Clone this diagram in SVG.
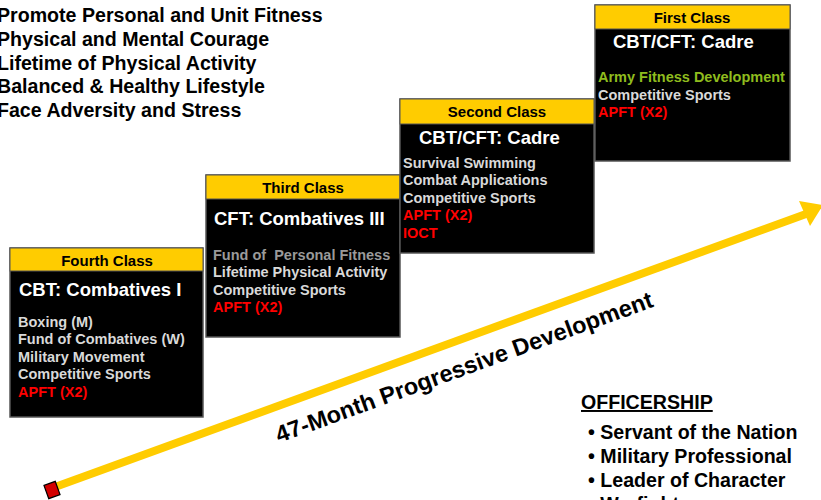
<svg xmlns="http://www.w3.org/2000/svg" width="821" height="500" viewBox="0 0 821 500">
<style>
text{font-family:"Liberation Sans",Arial,sans-serif;font-weight:bold}
.body{fill:#000;stroke:#555;stroke-width:1.5}
.hdr{fill:#ffcc00;stroke:#555;stroke-width:1}
.hl{font-size:15px;fill:#000;text-anchor:middle}
.ttl{font-size:18.5px;fill:#fff}
.it{font-size:14.5px;fill:#d9d9d9}
.red{fill:#ff0000}
.grn{fill:#8fbc1e}
.gry{fill:#9a9a9a}
.big{font-size:19.6px;fill:#000}
</style>
<rect width="821" height="500" fill="#fff"/>
<g id="goals">
<text class="big" x="-3" y="22">Promote Personal and Unit Fitness</text>
<text class="big" x="-3" y="46">Physical and Mental Courage</text>
<text class="big" x="-3" y="70">Lifetime of Physical Activity</text>
<text class="big" x="-3" y="93">Balanced &amp; Healthy Lifestyle</text>
<text class="big" x="-3" y="117">Face Adversity and Stress</text>
</g>
<g id="connectors">
<line x1="55" y1="487" x2="806" y2="214" stroke="#ffcc00" stroke-width="8"/>
<polygon points="799,201 823,205 810,226" fill="#ffcc00"/>
<rect x="-6" y="-7" width="12" height="14" fill="#d40000" stroke="#000" stroke-width="1.2" transform="translate(52,490) rotate(-20)"/>
<text x="0" y="0" font-size="23.5" fill="#000" transform="translate(279,443) rotate(-20)">47-Month Progressive Development</text>
</g>
<g id="fourth">
<rect class="body" x="10" y="248" width="193" height="169"/>
<rect class="hdr" x="10" y="248" width="193" height="23"/>
<text class="hl" x="107" y="266">Fourth Class</text>
<text class="ttl" x="19" y="296">CBT: Combatives I</text>
<text class="it" x="18" y="327">Boxing (M)</text>
<text class="it" x="18" y="344">Fund of Combatives (W)</text>
<text class="it" x="18" y="362">Military Movement</text>
<text class="it" x="18" y="379">Competitive Sports</text>
<text class="it red" x="18" y="397">APFT (X2)</text>
</g>
<g id="third">
<rect class="body" x="206" y="175" width="194" height="162"/>
<rect class="hdr" x="206" y="175" width="194" height="24"/>
<text class="hl" x="303" y="193">Third Class</text>
<text class="ttl" x="214" y="225">CFT: Combatives III</text>
<text class="it gry" x="213" y="260" xml:space="preserve">Fund of  Personal Fitness</text>
<text class="it" x="213" y="277">Lifetime Physical Activity</text>
<text class="it" x="213" y="295">Competitive Sports</text>
<text class="it red" x="213" y="312">APFT (X2)</text>
</g>
<g id="second">
<rect class="body" x="400" y="99" width="194" height="154"/>
<rect class="hdr" x="400" y="99" width="194" height="25"/>
<text class="hl" x="497" y="117">Second Class</text>
<text class="ttl" x="419" y="144">CBT/CFT: Cadre</text>
<text class="it" x="403" y="168">Survival Swimming</text>
<text class="it" x="403" y="185">Combat Applications</text>
<text class="it" x="403" y="203">Competitive Sports</text>
<text class="it red" x="403" y="220">APFT (X2)</text>
<text class="it red" x="403" y="238">IOCT</text>
</g>
<g id="first">
<rect class="body" x="595" y="5" width="195" height="156"/>
<rect class="hdr" x="595" y="5" width="195" height="24"/>
<text class="hl" x="692" y="23">First Class</text>
<text class="ttl" x="613" y="48">CBT/CFT: Cadre</text>
<text class="it grn" x="598" y="82">Army Fitness Development</text>
<text class="it" x="598" y="100">Competitive Sports</text>
<text class="it red" x="598" y="117">APFT (X2)</text>
</g>
<g id="officership">
<text class="big" x="581" y="409" font-size="20.5" text-decoration="underline">OFFICERSHIP</text>
<text class="big" x="588" y="439">• Servant of the Nation</text>
<text class="big" x="588" y="463">• Military Professional</text>
<text class="big" x="588" y="487">• Leader of Character</text>
<text class="big" x="588" y="511">• Warfighter</text>
</g>
</svg>
